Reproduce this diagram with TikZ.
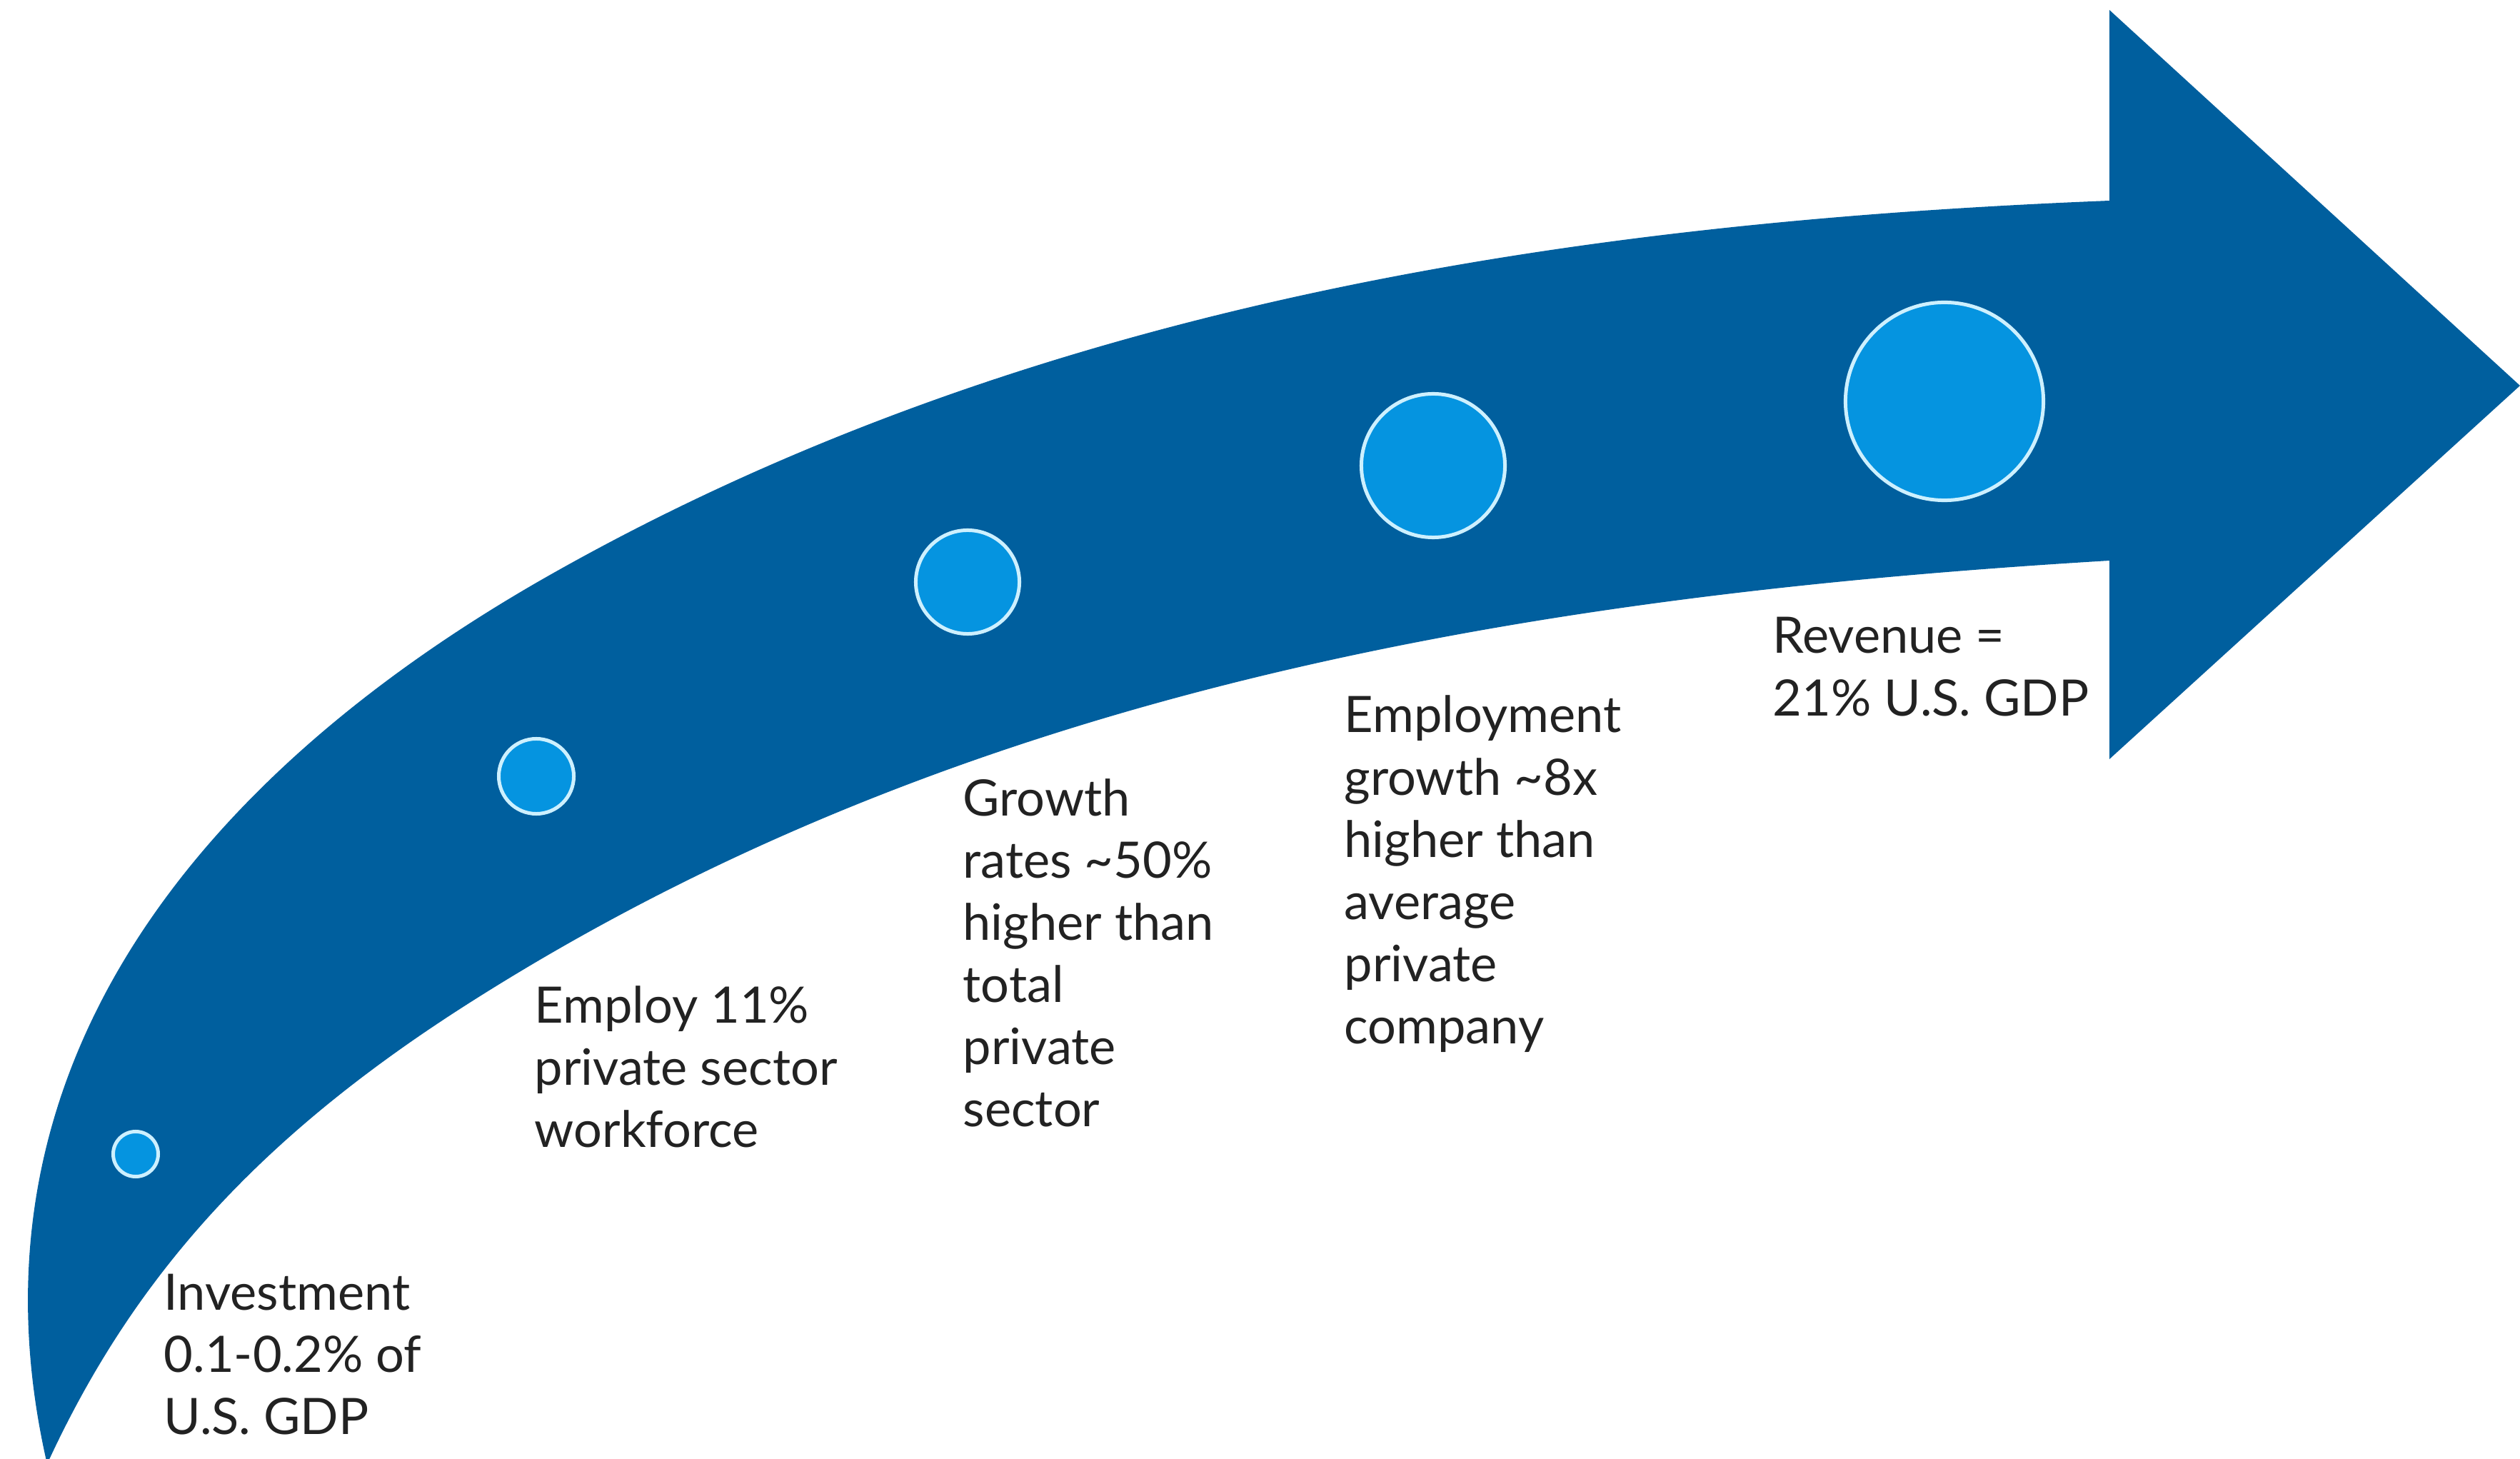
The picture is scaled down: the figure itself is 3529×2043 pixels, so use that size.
\documentclass[tikz,border=0pt]{standalone}
\usepackage{fontspec}
\setmainfont{Lato}
\begin{document}
\definecolor{arrowblue}{RGB}{0,95,158}
\definecolor{dotblue}{RGB}{5,148,224}
\definecolor{dotring}{RGB}{205,240,255}
\definecolor{labelgray}{RGB}{34,34,34}
\begin{tikzpicture}[x=0.01cm,y=-0.01cm,
  milestone/.style={circle,draw=dotring,fill=dotblue,line width=1.42pt,inner sep=0pt},
  caption/.style={anchor=base west,inner sep=0pt,text=labelgray,
    font=\fontsize{20}{24.75}\selectfont}]
\useasboundingbox (0,0) rectangle (3529,2043);
\clip (0,0) rectangle (3529,2043);

% curved arrow body with its head
\fill[arrowblue]
  (66,2050) .. controls (-72,1450) and (345,1047) .. (765,808)
            .. controls (1465,410) and (2254,309) .. (2954,281)
  -- (2954,14) -- (3529,540) -- (2954,1063) -- (2954,785)
            .. controls (2154,833) and (1350,961) .. (650,1409)
            .. controls (350,1601) and (181,1800) .. (66,2050)
  -- cycle;

% milestone dots, growing along the arrow
\node[milestone,minimum size=0.63cm] (m1) at (190,1616) {};
\node[milestone,minimum size=1.05cm] (m2) at (751,1087) {};
\node[milestone,minimum size=1.45cm] (m3) at (1355,815) {};
\node[milestone,minimum size=2.01cm] (m4) at (2007,652) {};
\node[milestone,minimum size=2.77cm] (m5) at (2723,562) {};

% labels under the arrow
\node[caption] (t1) at (229,1834) {\begin{tabular}[t]{@{}l@{}}Investment\\0.1-0.2\% of\\U.S. GDP\end{tabular}};
\node[caption] (t2) at (748,1432) {\begin{tabular}[t]{@{}l@{}}Employ 11\%\\private sector\\workforce\end{tabular}};
\node[caption] (t3) at (1348,1142) {\begin{tabular}[t]{@{}l@{}}Growth\\rates \textasciitilde50\%\\higher than\\total\\private\\sector\end{tabular}};
\node[caption] (t4) at (1882,1026) {\begin{tabular}[t]{@{}l@{}}Employment\\growth \textasciitilde8x\\higher than\\average\\private\\company\end{tabular}};
\node[caption] (t5) at (2482,915) {\begin{tabular}[t]{@{}l@{}}Revenue =\\21\% U.S. GDP\end{tabular}};
\end{tikzpicture}
\end{document}
